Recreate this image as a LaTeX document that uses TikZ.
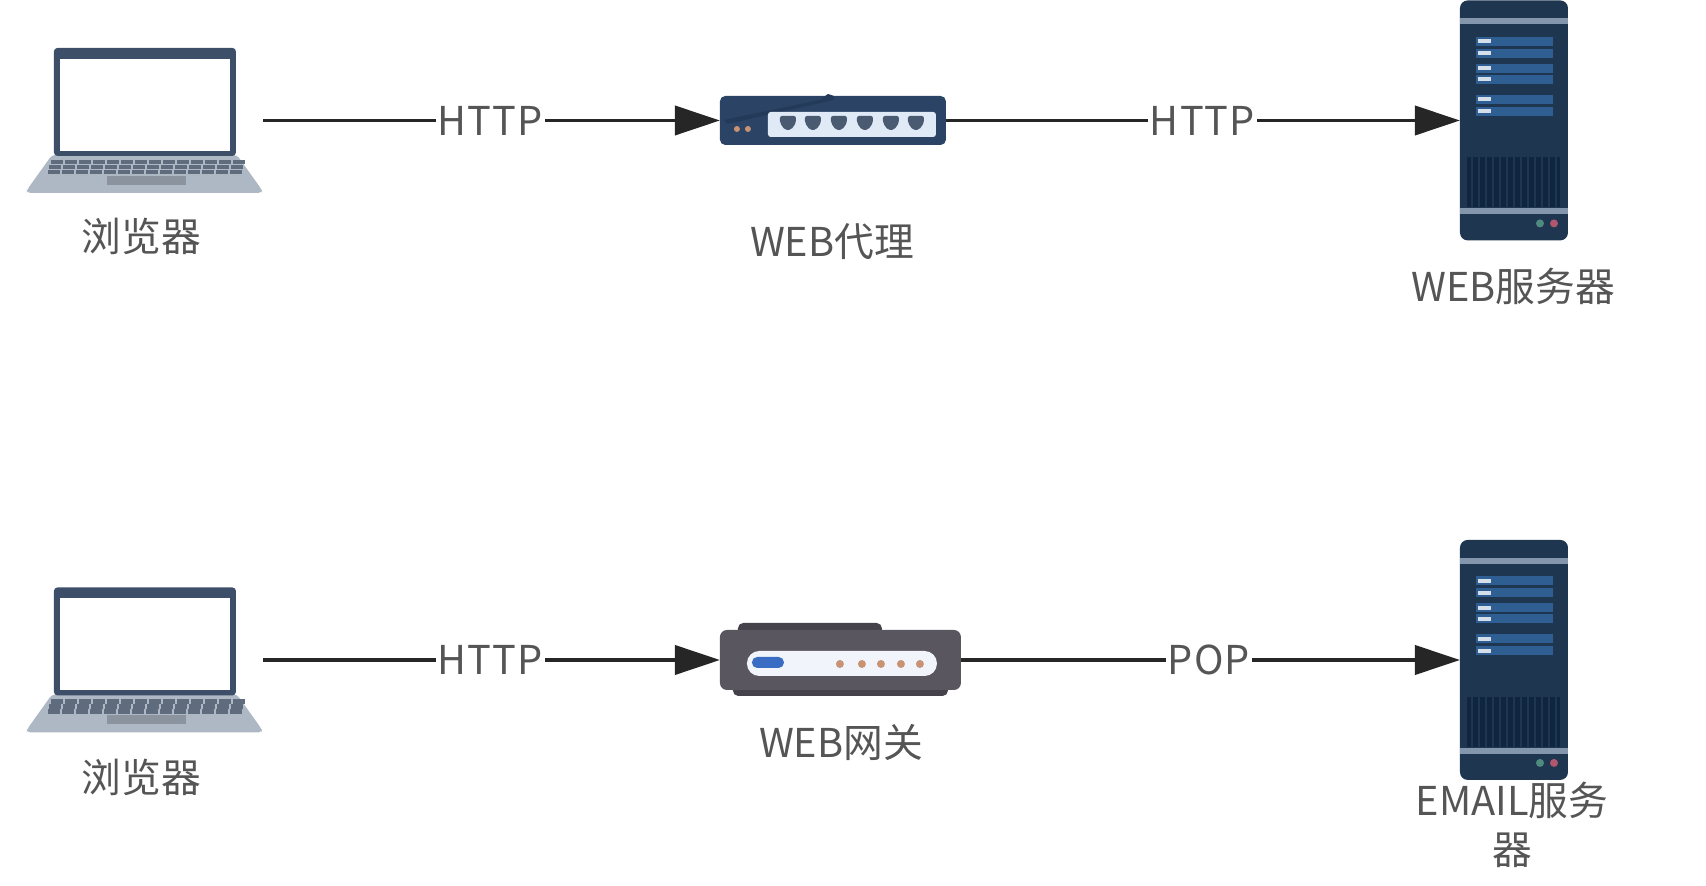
\documentclass[tikz,border=0pt]{standalone}
\usepackage{fontspec}
\setmainfont{Noto Sans CJK SC}
\usetikzlibrary{calc,arrows.meta}

\definecolor{screenblue}{HTML}{3D4F68}
\definecolor{basegray}{HTML}{AEB8C4}
\definecolor{keygray}{HTML}{5F6C7E}
\definecolor{padgray}{HTML}{8A939E}
\definecolor{rackblue}{HTML}{1F3650}
\definecolor{rackbar}{HTML}{8496AB}
\definecolor{rackrow}{HTML}{2F5F92}
\definecolor{rackvent}{HTML}{0F2540}
\definecolor{proxyblue}{HTML}{2B4465}
\definecolor{proxyshade}{HTML}{233A58}
\definecolor{proxypanel}{HTML}{DFEAF6}
\definecolor{portgray}{HTML}{4A5A70}
\definecolor{ledorange}{HTML}{C99272}
\definecolor{gategray}{HTML}{5A5660}
\definecolor{gatedark}{HTML}{45424C}
\definecolor{gateblue}{HTML}{3A6CC4}
\definecolor{textgray}{HTML}{555555}
\definecolor{linedark}{HTML}{262626}
\definecolor{ledgreen}{HTML}{4F8A80}
\definecolor{ledpink}{HTML}{B0566E}

\tikzset{
  iconbox/.style={inner sep=0pt,outer sep=0pt,minimum height=#1},
  lbl/.style={font=\fontsize{11.3}{14}\selectfont,text=textgray,inner sep=0pt,align=center},
  linklbl/.style={lbl,fill=white,inner xsep=0.5pt,inner ysep=2pt,font=\fontsize{11.3}{14}\selectfont\addfontfeature{LetterSpace=3}},
  link/.style={draw=linedark,line width=1.1pt,-{Triangle[length=4.5mm,width=0.29cm,fill=linedark]}},
  laptop/.pic={
    % base
    \fill[basegray,rounded corners=1pt] (25,107) -- (210,107) -- (235,142) -- (235,145) -- (0,145) -- (0,142) -- cycle;
    % lid
    \fill[screenblue,rounded corners=1pt] (27,0) rectangle (209,108);
    \fill[white] (33,11) rectangle (203,103);
    % keys
    \foreach \r in {0,1,2} {
      \foreach \k in {0,...,13} {
        \fill[keygray] ($(24,112)+(\k*14-\r*1.5,\r*5)$) rectangle ++(12,4.4);
      }
    }
    \fill[padgray] (80,128) rectangle (159,137);
  },
  rack/.pic={
    \fill[rackblue,rounded corners=2.2pt] (0,0) rectangle (108,240);
    \fill[rackbar] (0,18) rectangle (108,24);
    \fill[rackbar] (0,208) rectangle (108,214);
    % rows
    \foreach \ry in {41,53,68,79,99,111} {
      \fill[rackrow] (16,\ry-4.5) rectangle (93,\ry+4.5);
      \fill[white!80!rackrow] (18,\ry-2) rectangle (31,\ry+2);
    }
    % vent
    \fill[rackvent] (7,157) rectangle (100,207);
    \foreach \vx in {12,19,...,96} {
      \draw[rackblue,line width=0.4pt] (\vx,157) -- (\vx,207);
    }
    \fill[ledgreen] (80,223) circle (4);
    \fill[ledpink] (94,223) circle (4);
  },
  hub/.pic={
    \fill[proxyblue,rounded corners=1.5pt] (0,49) -- (0,0) -- (226,0) -- (226,49) -- cycle;
    \fill[proxyshade] (4,24) -- (100,4) -- (108,-2) -- (114,0) -- (114,4) -- (60,16) -- (8,28) -- cycle;
    \fill[proxypanel,rounded corners=0.8pt] (48,16) rectangle (216,41);
    \foreach \px in {68,93,119,145,171,196} {
      \fill[portgray,rounded corners=0.6pt] ($(\px,20)+(-8,0)$) -- ++(16,0) -- ++(0,7) -- ++(-5,7) -- ++(-6,0) -- ++(-5,-7) -- cycle;
    }
    \fill[ledorange] (17,33) circle (3);
    \fill[ledorange] (28,33) circle (3);
  },
  gate/.pic={
    \fill[gatedark,rounded corners=1.5pt] (18,-7) rectangle (162,10);
    \fill[gatedark,rounded corners=1.5pt] (13,40) rectangle (228,66);
    \fill[gategray,rounded corners=2pt] (0,0) rectangle (241,60);
    \fill[white!93!gateblue,rounded corners=3.5pt] (27,21) rectangle (217,46);
    \fill[gateblue,rounded corners=1.5pt] (32,27) rectangle (64,38);
    \foreach \dx in {120,142,161,181,200} {
      \fill[ledorange] (\dx,34) circle (4);
    }
  }
}

\begin{document}
\begin{tikzpicture}[x=0.01cm,y=-0.01cm]
\useasboundingbox (0,0) rectangle (1706,886);

% Proxy row
\node[iconbox=1.45cm,minimum width=2.36cm] (browsera) at (145,120.5) {};
\node[iconbox=0.49cm,minimum width=2.26cm] (proxy) at (833,120.5) {};
\node[iconbox=2.4cm,minimum width=1.08cm] (webserver) at (1514,120.5) {};
\pic at (browsera.north west) {laptop};
\pic at (proxy.north west) {hub};
\pic at (webserver.north west) {rack};
\node[lbl] (browseratext) at (141.5,236) {浏览器};
\node[lbl] (proxytext) at (832,241.5) {WEB代理};
\node[lbl] (webservertext) at (1513,286) {WEB服务器};
\draw[link] (browsera.east) -- node[linklbl,pos=0.497] (httpa) {HTTP} (proxy.west);
\draw[link] (proxy.east) -- node[linklbl,pos=0.499] (httpb) {HTTP} (webserver.west);

% Gateway row
\node[iconbox=1.45cm,minimum width=2.36cm] (browserb) at (145,660) {};
\node[iconbox=0.6cm,minimum width=2.41cm] (gateway) at (840.5,660) {};
\node[iconbox=2.4cm,minimum width=1.08cm] (mailserver) at (1514,660) {};
\pic at (browserb.north west) {laptop};
\pic at (gateway.north west) {gate};
\pic at (mailserver.north west) {rack};
\node[lbl] (browserbtext) at (141.5,777) {浏览器};
\node[lbl] (gatewaytext) at (841,742) {WEB网关};
\node[lbl] (mailservertext) at (1512,825) {EMAIL服务\\器};
\draw[link] (browserb.east) -- node[linklbl,pos=0.497] (httpc) {HTTP} (gateway.west);
\draw[link] (gateway.east) -- node[linklbl,pos=0.497] (pop) {POP} (mailserver.west);
\end{tikzpicture}
\end{document}
